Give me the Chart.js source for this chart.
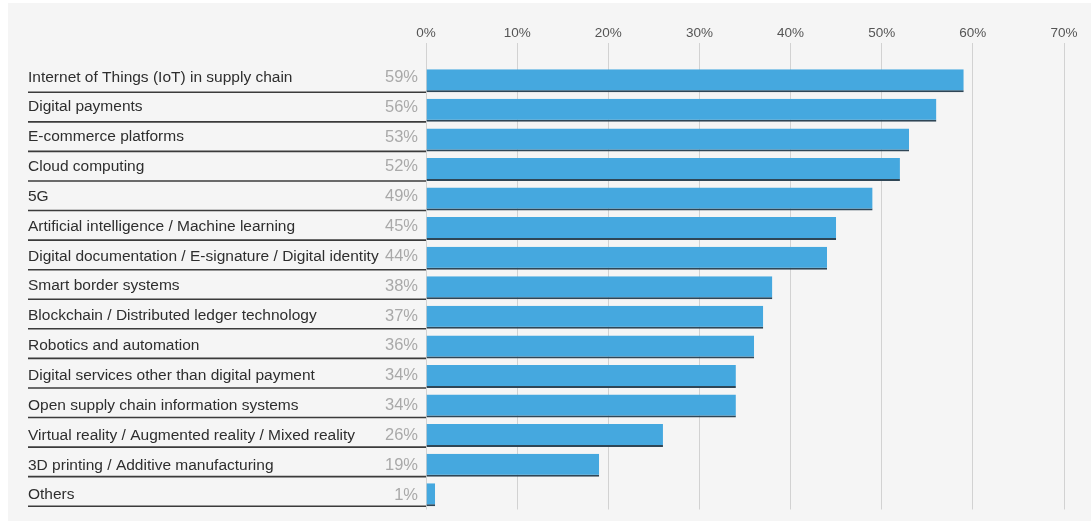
<!DOCTYPE html>
<html>
<head>
<meta charset="utf-8">
<script src="https://cdn.jsdelivr.net/npm/chart.js@4.4.1/dist/chart.umd.min.js"></script>
<style>
  html, body { margin: 0; padding: 0; background: #ffffff; }
  #wrap { position: absolute; left: 8px; top: 3px; width: 1083px; height: 518px; background: #f5f5f5; }
</style>
</head>
<body>
<div id="wrap"><canvas id="chart"></canvas></div>
<script>
// Tecnologías y porcentaje de respuestas
const categorias = [
  'Internet of Things (IoT) in supply chain',
  'Digital payments',
  'E-commerce platforms',
  'Cloud computing',
  '5G',
  'Artificial intelligence / Machine learning',
  'Digital documentation / E-signature / Digital identity',
  'Smart border systems',
  'Blockchain / Distributed ledger technology',
  'Robotics and automation',
  'Digital services other than digital payment',
  'Open supply chain information systems',
  'Virtual reality / Augmented reality / Mixed reality',
  '3D printing / Additive manufacturing',
  'Others'
];
const valores = [59, 56, 53, 52, 49, 45, 44, 38, 37, 36, 34, 34, 26, 19, 1];
const ticksEje = [0, 10, 20, 30, 40, 50, 60, 70];

const FUENTE = '"Liberation Sans", Arial, sans-serif';
const LABEL_X = 20;

// Etiquetas de categoría, valores y líneas separadoras
const etiquetasPlugin = {
  id: 'etiquetas',
  afterDatasetsDraw(chart) {
    const { ctx, chartArea, scales } = chart;
    const y = scales.y;
    ctx.save();
    categorias.forEach((cat, i) => {
      const yc = y.getPixelForValue(i);
      const yb = yc + 11.5;
      const yt = yc - 3.5 + i * 0.28;
      // línea bajo la fila
      ctx.strokeStyle = '#3b3b3b';
      ctx.lineWidth = 1.6;
      ctx.beginPath();
      ctx.moveTo(LABEL_X, yb);
      ctx.lineTo(chartArea.left, yb);
      ctx.stroke();

      ctx.font = '15.5px ' + FUENTE;
      ctx.textBaseline = 'middle';
      ctx.textAlign = 'left';
      ctx.fillStyle = '#2e2e2e';
      ctx.fillText(cat, LABEL_X, yt);

      ctx.font = '16.5px ' + FUENTE;
      ctx.textAlign = 'right';
      ctx.fillStyle = '#a9a9a9';
      ctx.fillText(valores[i] + '%', chartArea.left - 8, yt);
    });
    ctx.restore();
  }
};

new Chart(document.getElementById('chart'), {
  type: 'bar',
  data: {
    labels: categorias,
    datasets: [{
      data: valores,
      backgroundColor: '#45a8df',
      borderColor: '#2f4656',
      borderWidth: { top: 0, left: 0, right: 0, bottom: 2 },
      borderSkipped: false,
      barPercentage: 1,
      categoryPercentage: 0.778
    }]
  },
  options: {
    indexAxis: 'y',
    responsive: true,
    maintainAspectRatio: false,
    animation: false,
    layout: { padding: { left: 0, right: 27, top: 0, bottom: 11.5 } },
    plugins: { legend: { display: false }, tooltip: { enabled: false } },
    scales: {
      x: {
        position: 'top',
        min: 0,
        max: 70,
        afterBuildTicks: (scale) => { scale.ticks = ticksEje.map(v => ({ value: v })); },
        afterFit: (scale) => { scale.height = 63; },
        border: { display: false },
        grid: { color: '#d2d2d2', lineWidth: 1, drawTicks: true, tickLength: 23 },
        ticks: {
          color: '#555555',
          font: { family: FUENTE, size: 13.5 },
          padding: 2,
          callback: (v) => v + '%'
        }
      },
      y: {
        afterFit: (scale) => { scale.width = 418; },
        border: { display: false },
        grid: { display: false },
        ticks: { display: false }
      }
    }
  },
  plugins: [etiquetasPlugin]
});
</script>
</body>
</html>
